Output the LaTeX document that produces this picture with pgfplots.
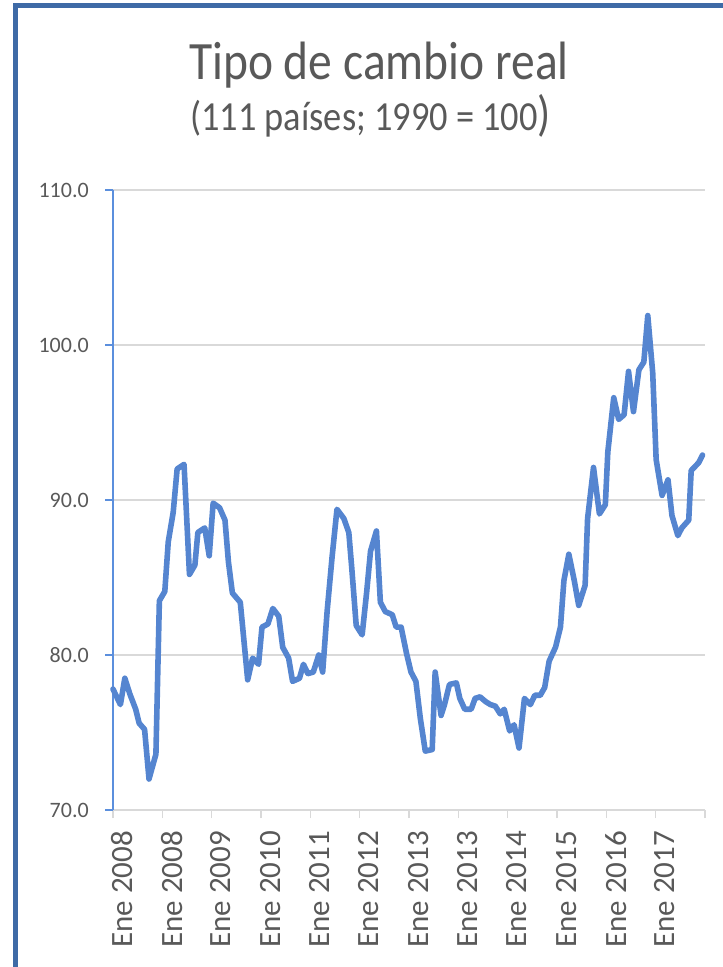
\documentclass[border=0pt]{standalone}
\usepackage{fontspec}
\setmainfont{Carlito}
\newfontfamily\titlefont[FakeStretch=0.88]{Carlito}
\usepackage{pgfplots}
\pgfplotsset{compat=1.18}
\definecolor{frameblue}{HTML}{3E6AA6}
\definecolor{lineblue}{HTML}{5585D0}
\definecolor{axisblue}{HTML}{5B8FDD}
\definecolor{gridgray}{HTML}{D9D9D9}
\definecolor{textgray}{HTML}{595959}

% pixel helper: x from left, y from top of a 722x967 picture
\newcommand{\px}[2]{({#1*0.75pt},{(967-#2)*0.75pt})}

\begin{document}
\begin{tikzpicture}
\useasboundingbox (0,0) rectangle (541.5pt,725.25pt);

% outer frame (only left and top edges are visible)
\draw[frameblue, line width=3.75pt, line join=miter]
  \px{15.8}{1000} -- \px{15.8}{5.7} -- \px{740}{5.7};

% titles
\node[anchor=base, text=textgray, inner sep=0pt]
  at \px{379}{80} {\titlefont\fontsize{40.5pt}{44pt}\selectfont Tipo de cambio real};
\node[anchor=base west, text=textgray, inner sep=0pt]
  at \px{190}{131} {\titlefont\fontsize{31pt}{34pt}\selectfont (111 países; 1990 = 100{\fontsize{37pt}{40pt}\selectfont)}};

\begin{axis}[
    at={(84.75pt,117.75pt)}, anchor=south west,
    scale only axis,
    width=444pt, height=465pt,
    xmin=0, xmax=120,
    ymin=70, ymax=110,
    axis lines=left,
    axis line style={-},
    x axis line style={draw=gridgray, line width=1.2pt},
    y axis line style={draw=axisblue, line width=1.1pt},
    tick align=outside,
    major tick length=6pt,
    x tick style={draw=gridgray, line width=1.2pt},
    y tick style={draw=axisblue, line width=1.1pt},
    ymajorgrids,
    grid style={draw=gridgray, line width=1.2pt},
    xtick={0,10,...,120},
    xticklabels={Ene 2008,Ene 2008,Ene 2009,Ene 2010,Ene 2011,Ene 2012,Ene 2013,Ene 2013,Ene 2014,Ene 2015,Ene 2016,Ene 2017,{}},
    ytick={70,80,90,100,110},
    yticklabels={70.0,80.0,90.0,100.0,110.0},
    xticklabel style={font=\fontsize{23.25pt}{26pt}\selectfont, text=textgray,
      rotate=90, anchor=east, inner sep=0pt, xshift=-9.5pt, yshift=-7pt},
    yticklabel style={font=\fontsize{16.5pt}{18pt}\selectfont, text=textgray,
      anchor=east, inner sep=0pt, xshift=-12pt},
    clip=false,
]
\addplot[lineblue, line width=4.2pt, line join=round, line cap=round] coordinates {
(0,77.8) (1.5,76.8) (2.4,78.5) (3.4,77.5) (4.6,76.5) (5.3,75.6) (6.4,75.2)
(7.3,72.0) (8.7,73.6) (9.4,83.5) (10.5,84.1) (11.2,87.3) (12.2,89.2) (13.0,92.0)
(14.4,92.3) (15.5,85.2) (16.6,85.8) (17.2,87.9) (18.6,88.2) (19.5,86.4) (20.3,89.8)
(21.6,89.5) (22.7,88.7) (23.4,86.0) (24.2,84.0) (25.8,83.4) (27.3,78.4) (28.3,79.8)
(29.5,79.4) (30.2,81.8) (31.4,82.0) (32.4,83.0) (33.6,82.5) (34.4,80.5) (35.6,79.8)
(36.4,78.3) (37.8,78.5) (38.6,79.4) (39.5,78.8) (40.6,78.9) (41.7,80.0) (42.5,78.9)
(43.4,82.8) (44.4,86.3) (45.4,89.4) (46.8,88.8) (47.8,87.9) (48.4,85.6) (49.3,81.9)
(50.5,81.3) (51.4,84.0) (52.2,86.7) (53.4,88.0) (54.2,83.4) (55.2,82.8) (56.6,82.6)
(57.4,81.8) (58.4,81.8) (59.5,80.1) (60.4,78.9) (61.4,78.3) (62.3,75.9) (63.3,73.8)
(64.7,73.9) (65.3,78.9) (66.5,76.1) (67.2,76.8) (68.2,78.1) (69.6,78.2) (70.3,77.2)
(71.3,76.5) (72.6,76.5) (73.4,77.2) (74.4,77.3) (75.5,77.0) (76.5,76.8) (77.5,76.7)
(78.5,76.2) (79.3,76.5) (80.4,75.1) (81.3,75.5) (82.3,74.0) (83.4,77.2) (84.6,76.8)
(85.5,77.4) (86.6,77.4) (87.5,77.9) (88.4,79.6) (89.7,80.5) (90.7,81.8) (91.4,84.8)
(92.4,86.5) (93.5,84.8) (94.4,83.2) (95.7,84.5) (96.2,88.8) (97.4,92.1) (98.6,89.1)
(99.8,89.7) (100.3,93.1) (101.5,96.6) (102.5,95.2) (103.6,95.5) (104.5,98.3) (105.5,95.7)
(106.6,98.4) (107.6,98.9) (108.4,101.9) (109.4,98.2) (110.1,92.6) (111.3,90.3) (112.5,91.3)
(113.3,89.0) (114.5,87.7) (115.3,88.2) (116.7,88.7) (117.2,91.9) (118.7,92.4) (119.5,92.9)
};
\end{axis}
\end{tikzpicture}
\end{document}
